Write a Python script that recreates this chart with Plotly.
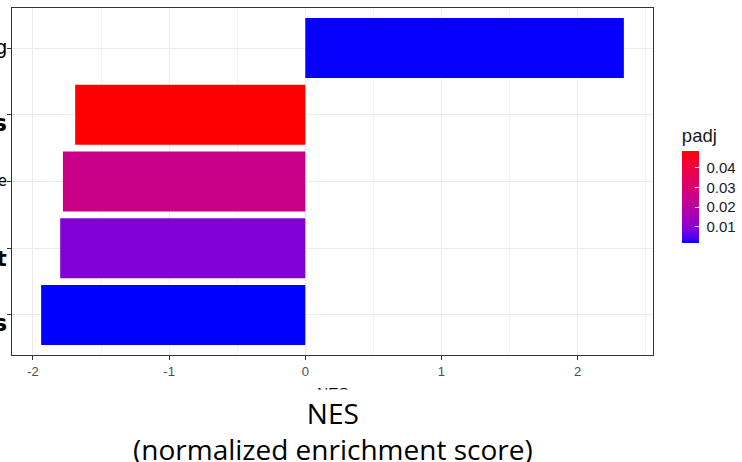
import plotly.graph_objects as go

# Gene sets (top to bottom), enrichment scores and adjusted p-values
pathways = ["mTORC1 signaling", "E2F targets", "Inflammatory response",
            "G2M checkpoint", "MYC targets"]
nes = [2.34, -1.69, -1.78, -1.80, -1.94]
padj = [0.0018, 0.0484, 0.0250, 0.0092, 0.0016]
padj_ticks = [0.01, 0.02, 0.03, 0.04]
x_ticks = [-2, -1, 0, 1, 2]

# per-label typography for the gene-set names
label_size = [20, 23, 15, 22, 23]
label_bold = [False, True, False, True, True]
label_nudge = [1, -8, 1, -10, -8]


def srgb_to_lab(rgb):
    def lin(c):
        c = c / 255.0
        return c / 12.92 if c <= 0.04045 else ((c + 0.055) / 1.055) ** 2.4
    r, g, b = (lin(c) for c in rgb)
    x = (0.4124 * r + 0.3576 * g + 0.1805 * b) / 0.95047
    y = (0.2126 * r + 0.7152 * g + 0.0722 * b)
    z = (0.0193 * r + 0.1192 * g + 0.9505 * b) / 1.08883

    def f(t):
        return t ** (1 / 3) if t > 0.008856 else 7.787 * t + 16 / 116
    fx, fy, fz = f(x), f(y), f(z)
    return (116 * fy - 16, 500 * (fx - fy), 200 * (fy - fz))


def lab_to_srgb(lab):
    L, a, b = lab
    fy = (L + 16) / 116
    fx = fy + a / 500
    fz = fy - b / 200

    def finv(t):
        return t ** 3 if t ** 3 > 0.008856 else (t - 16 / 116) / 7.787
    x, y, z = 0.95047 * finv(fx), finv(fy), 1.08883 * finv(fz)
    r = 3.2406 * x - 1.5372 * y - 0.4986 * z
    g = -0.9689 * x + 1.8758 * y + 0.0415 * z
    bb = 0.0557 * x - 0.2040 * y + 1.0570 * z

    def gam(c):
        c = min(max(c, 0.0), 1.0)
        c = 12.92 * c if c <= 0.0031308 else 1.055 * c ** (1 / 2.4) - 0.055
        return int(round(c * 255))
    return "rgb({},{},{})".format(gam(r), gam(g), gam(bb))


# blue -> red gradient interpolated in Lab space
lo_lab, hi_lab = srgb_to_lab((0, 0, 255)), srgb_to_lab((255, 0, 0))
n_stops = 21
colorscale = []
for i in range(n_stops):
    t = i / (n_stops - 1)
    lab = tuple(lo_lab[k] + t * (hi_lab[k] - lo_lab[k]) for k in range(3))
    colorscale.append([t, lab_to_srgb(lab)])

lo = min(min(nes), 0)
hi = max(max(nes), 0)
pad = 0.05 * (hi - lo)

# shared colour-bar geometry
cbar_common = dict(
    x=1.045, xanchor="left",
    y=0.322, yanchor="bottom",
    len=118, lenmode="pixels",
    thickness=17,
    outlinewidth=0,
    tickvals=padj_ticks,
    xpad=0, ypad=0,
)
cbar_title_font = dict(family="Liberation Sans", size=18.5)

fig = go.Figure()

fig.add_trace(go.Bar(
    x=nes,
    y=pathways,
    orientation="h",
    width=0.9,
    marker=dict(
        color=padj,
        colorscale=colorscale,
        cmin=min(padj),
        cmax=max(padj),
        line=dict(width=0),
        showscale=True,
        colorbar=dict(
            title=dict(text="padj", side="top", font=dict(color="#1a1a1a", **cbar_title_font)),
            ticktext=["{:.2f}".format(v) for v in padj_ticks],
            ticks="outside", ticklen=5, tickcolor="white", tickwidth=1,
            tickfont=dict(family="Liberation Sans", size=15, color="#1a1a1a"),
            **cbar_common,
        ),
    ),
    hoverinfo="skip",
))

# overlay colour bar carrying the white tick marks across the gradient
fig.add_trace(go.Scatter(
    x=nes,
    y=pathways,
    mode="markers",
    marker=dict(
        size=0.1,
        opacity=0,
        color=padj,
        colorscale=colorscale,
        cmin=min(padj),
        cmax=max(padj),
        showscale=True,
        colorbar=dict(
            title=dict(text="padj", side="top", font=dict(color="rgba(0,0,0,0)", **cbar_title_font)),
            ticks="inside", ticklen=4, tickcolor="white", tickwidth=1,
            showticklabels=False,
            **cbar_common,
        ),
    ),
    hoverinfo="skip",
    showlegend=False,
))

# gene-set names, right-aligned against the y-axis tick marks
annotations = []
for name, size, bold, nudge in zip(pathways, label_size, label_bold, label_nudge):
    annotations.append(dict(
        text="<b>{}</b>".format(name) if bold else name,
        xref="paper", yref="y", x=0, y=name,
        xanchor="right", yanchor="middle", xshift=-4.5, yshift=nudge,
        showarrow=False, borderpad=0,
        font=dict(family="DejaVu Sans", size=size, color="black"),
    ))

annotations += [
    # default axis title, partly hidden by the caption block below
    dict(text="NES", xref="paper", yref="paper", x=0.5, y=-0.108,
         xanchor="center", yanchor="middle", showarrow=False,
         font=dict(family="Liberation Sans", size=15.5, color="black")),
    dict(text=" ", xref="paper", yref="paper", x=-0.03, y=-0.098,
         xanchor="left", yanchor="top", showarrow=False,
         width=780, height=90, bgcolor="white", borderpad=0),
    dict(text="NES<br>(normalized enrichment score)", xref="paper", yref="paper",
         x=0.5, y=-0.1065, xanchor="center", yanchor="top", showarrow=False,
         align="center",
         font=dict(family="Open Sans", size=28, color="black")),
]

fig.update_layout(
    template="none",
    width=742, height=462,
    margin=dict(l=12, r=89, t=8, b=107, autoexpand=False),
    paper_bgcolor="white",
    plot_bgcolor="white",
    showlegend=False,
    xaxis=dict(
        range=[lo - pad, hi + pad],
        tickvals=x_ticks,
        ticktext=[str(v) for v in x_ticks],
        ticks="outside", ticklen=4, tickcolor="#333333", tickwidth=1,
        tickfont=dict(family="Liberation Sans", size=13, color="#4d4d4d"),
        showgrid=True, gridcolor="#ebebeb", gridwidth=1.1,
        minor=dict(dtick=0.5, tick0=-2.5, showgrid=True, gridcolor="#f2f2f2", gridwidth=0.6),
        zeroline=False,
        showline=True, mirror=True, linecolor="#333333", linewidth=1,
        automargin=False,
    ),
    yaxis=dict(
        type="category",
        categoryorder="array",
        categoryarray=pathways[::-1],
        range=[-0.6, len(pathways) - 0.4],
        ticks="outside", ticklen=4, tickcolor="#333333", tickwidth=1,
        showticklabels=False,
        showgrid=True, gridcolor="#ebebeb", gridwidth=1.1,
        zeroline=False,
        showline=True, mirror=True, linecolor="#333333", linewidth=1,
        automargin=False,
    ),
    annotations=annotations,
)

fig.write_html("out.html")
